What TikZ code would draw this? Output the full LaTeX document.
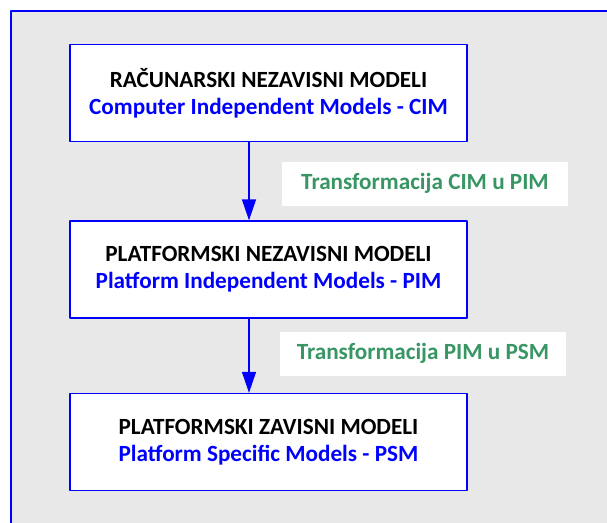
\documentclass[tikz,border=0pt]{standalone}
\usepackage{fontspec}
\setmainfont{Carlito}
\usetikzlibrary{arrows.meta}
\definecolor{okvir}{RGB}{0,0,255}
\definecolor{zelena}{RGB}{56,150,100}
\definecolor{pozadina}{RGB}{232,232,232}
\begin{document}
\begin{tikzpicture}[x=1pt,y=-1pt, line join=round,
    model/.style={draw=okvir, line width=1.3pt, fill=white, minimum width=397pt, minimum height=97pt,
        align=center, font=\fontsize{23.2}{27}\selectfont\bfseries},
    transf/.style={fill=white, text=zelena, minimum width=286pt, minimum height=44pt,
        font=\fontsize{23.2}{27}\selectfont\bfseries},
    veza/.style={draw=okvir, line width=1.3pt, -{Triangle[length=21pt,width=14pt]}}
    ]
    \useasboundingbox (0,0) rectangle (607,522);
    \clip (0,0) rectangle (607,522);
    % okvir
    \draw[okvir, line width=1.3pt, fill=pozadina] (11,11) rectangle (640,560);
    % modeli
    \node[model] (cim) at (268.5,93) {RAČUNARSKI NEZAVISNI MODELI\\\textcolor{okvir}{Computer Independent Models - CIM}};
    \node[model] (pim) at (268.5,269.5) {PLATFORMSKI NEZAVISNI MODELI\\\textcolor{okvir}{Platform Independent Models - PIM}};
    \node[model] (psm) at (268.5,442) {PLATFORMSKI ZAVISNI MODELI\\\textcolor{okvir}{Platform Specific Models - PSM}};
    % transformacije
    \node[transf] (t1) at (425,183.5) {Transformacija CIM u PIM};
    \node[transf] (t2) at (423,353.5) {Transformacija PIM u PSM};
    \draw[veza] ([xshift=-19.5pt]cim.south) -- ([xshift=-19.5pt]pim.north);
    \draw[veza] ([xshift=-19.5pt]pim.south) -- ([xshift=-19.5pt]psm.north);
\end{tikzpicture}
\end{document}
